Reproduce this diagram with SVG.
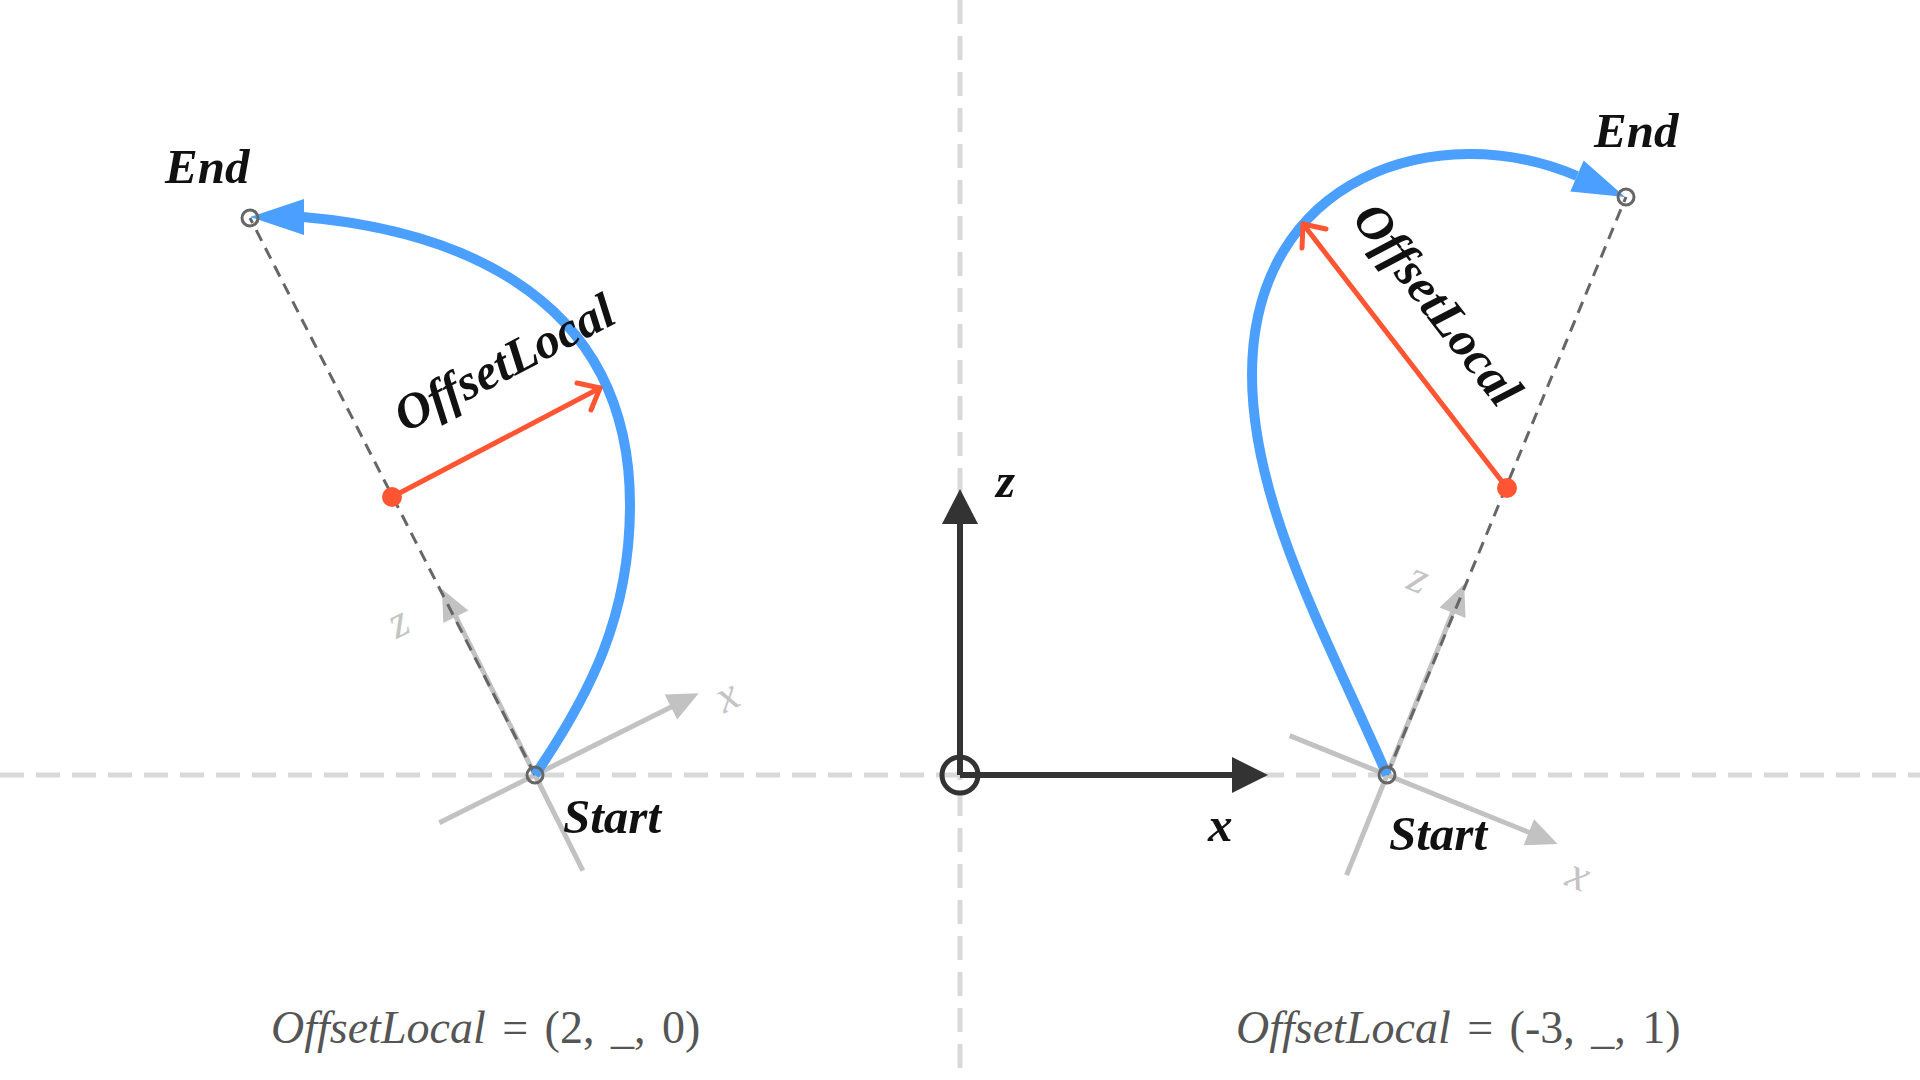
<svg xmlns="http://www.w3.org/2000/svg" width="1920" height="1080" viewBox="0 0 1920 1080">
<style>
.grid{stroke:#d9d9d9;stroke-width:5;stroke-dasharray:24 12;fill:none}
.laxis{stroke:#c2c2c2;stroke-width:5;fill:none}
.lhead{fill:#c2c2c2}
.llabel{font-family:"Liberation Serif",serif;font-style:italic;font-size:46px;fill:#c4c4c4;text-anchor:middle}
.guide{stroke:#666;stroke-width:3;stroke-dasharray:12 8;fill:none}
.curve{stroke:#4a9fff;stroke-width:10;fill:none}
.chead{fill:#4a9fff}
.offset{stroke:#ff5533;stroke-width:5;fill:none;stroke-linecap:round;stroke-linejoin:round}
.dot{fill:#ff5533}
.pt{fill:none;stroke:#666;stroke-width:3}
.lbl{font-family:"Liberation Serif",serif;font-style:italic;font-weight:bold;font-size:49px;fill:#111}
.big{font-size:50px}
.cap{font-family:"Liberation Serif",serif;font-size:46px;fill:#555;word-spacing:5px}
.waxis{stroke:#333;stroke-width:6;fill:none}
.whead{fill:#333}
</style>

<g id="background-grid">
  <line class="grid" x1="0" y1="775" x2="1920" y2="775"/>
  <line class="grid" x1="960" y1="0" x2="960" y2="1080"/>
</g>

<g id="world-axes">
  <line class="waxis" x1="960" y1="775" x2="960" y2="522"/>
  <polygon class="whead" points="960,489 942,524 978,524"/>
  <line class="waxis" x1="960" y1="775" x2="1234" y2="775"/>
  <polygon class="whead" points="1268,775 1232,757 1232,793"/>
  <circle cx="960" cy="775" r="18" fill="none" stroke="#333" stroke-width="5"/>
  <text class="lbl" x="996" y="497">z</text>
  <text class="lbl" x="1208" y="841">x</text>
</g>

<g id="left-local-axes">
  <g transform="translate(535,775) rotate(-26.57)">
    <line class="laxis" x1="-107" y1="0" x2="155" y2="0"/>
    <polygon class="lhead" points="183,0 152,-14 152,14"/>
    <line class="laxis" x1="0" y1="107" x2="0" y2="-180"/>
    <polygon class="lhead" points="0,-208 -14,-177 14,-177"/>
  </g>
  <text class="llabel" transform="translate(400,626) rotate(-26.57)" y="10">z</text>
  <text class="llabel" transform="translate(729,700) rotate(-26.57)" y="10">x</text>
</g>

<g id="right-local-axes">
  <g transform="translate(1387,775) rotate(22)">
    <line class="laxis" x1="-105" y1="0" x2="156" y2="0"/>
    <polygon class="lhead" points="184,0 153,-14 153,14"/>
    <line class="laxis" x1="0" y1="108" x2="0" y2="-178"/>
    <polygon class="lhead" points="0,-206 -14,-175 14,-175"/>
  </g>
  <text class="llabel" transform="translate(1417,582) rotate(22)" y="10">z</text>
  <text class="llabel" transform="translate(1577,879) rotate(22)" y="10">x</text>
</g>

<g id="connectors">
  <line class="guide" x1="535" y1="775" x2="250" y2="218"/>
  <line class="guide" x1="1387" y1="775" x2="1626" y2="197"/>
  <path class="curve" d="M535,775 C591,693 630,615 630,505 C630,280 430,228 303,217"/>
  <polygon class="chead" points="250,217 304,199 304,235"/>
  <path class="curve" d="M1387,775 C1328,639 1252,505 1252,375 C1252,175 1439,117 1577,176"/>
  <polygon class="chead" points="1625,197 1583.7,160.4 1570.3,191.6"/>
  <line class="offset" x1="392" y1="497" x2="600" y2="388"/>
  <polyline class="offset" points="577,383 600,388 591,410"/>
  <line class="offset" x1="1507" y1="488" x2="1303" y2="224"/>
  <polyline class="offset" points="1302,248 1303,224 1326,229"/>
</g>

<g id="left-start">
  <circle class="pt" cx="535" cy="775" r="8"/>
  <text class="lbl" x="563" y="833">Start</text>
</g>
<g id="left-end">
  <circle class="pt" cx="250" cy="218" r="8"/>
  <text class="lbl" x="165" y="183">End</text>
</g>
<g id="left-mid">
  <circle class="dot" cx="392" cy="497" r="10"/>
  <text class="lbl big" transform="translate(405,433) rotate(-27.5)">OffsetLocal</text>
</g>

<g id="right-start">
  <circle class="pt" cx="1387" cy="775" r="8"/>
  <text class="lbl" x="1389" y="850">Start</text>
</g>
<g id="right-end">
  <circle class="pt" cx="1626" cy="197" r="8"/>
  <text class="lbl" x="1594" y="147">End</text>
</g>
<g id="right-mid">
  <circle class="dot" cx="1507" cy="488" r="10"/>
  <text class="lbl big" transform="translate(1351,219) rotate(52.3)">OffsetLocal</text>
</g>

<g id="captions">
  <text class="cap" x="271" y="1043"><tspan font-style="italic">OffsetLocal</tspan> = (2, _, 0)</text>
  <text class="cap" x="1236" y="1043"><tspan font-style="italic">OffsetLocal</tspan> = (-3, _, 1)</text>
</g>
</svg>
